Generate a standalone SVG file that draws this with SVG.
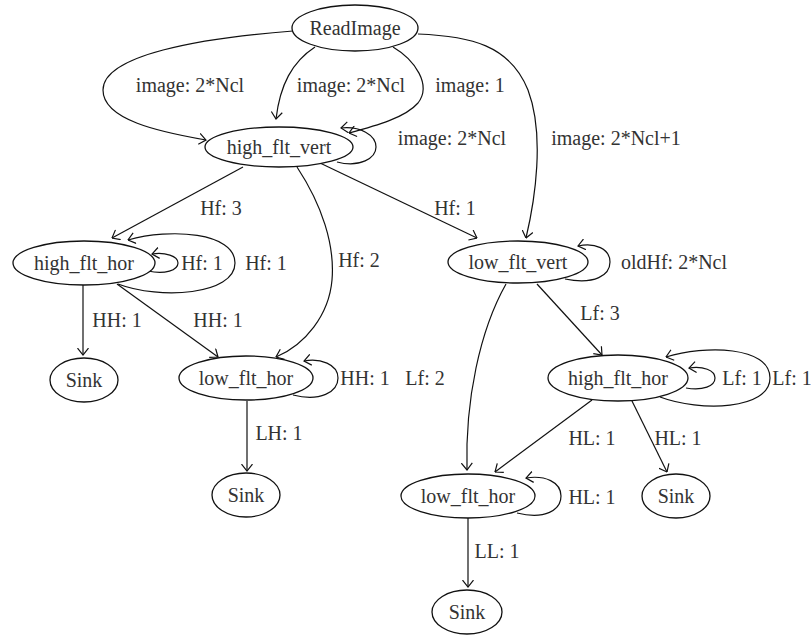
<svg xmlns="http://www.w3.org/2000/svg" width="811" height="636" viewBox="0 0 811 636">
  <defs>
    <marker id="vee" viewBox="0 0 8 12" refX="7.4" refY="6" markerWidth="8" markerHeight="12" markerUnits="userSpaceOnUse" orient="auto">
      <path d="M0.5,0.5 L7.4,6 L0.5,11.5" fill="none" stroke="#111" stroke-width="1.2"/>
    </marker>
    <style>
      .node ellipse { fill: #fff; stroke: #111; stroke-width: 1.3; }
      text { font-family: "Liberation Serif", "DejaVu Serif", serif; font-size: 20px; fill: #333; text-anchor: middle; }
      .edges path { fill: none; stroke: #111; stroke-width: 1.2; marker-end: url(#vee); }
    </style>
  </defs>
  <rect width="811" height="636" fill="#fff"/>

  <g id="edges" class="edges">
    <!-- ReadImage fan-out -->
    <path d="M293,31 C200,38 103,55 103,90 C103,120 160,132 206,140"/>
    <path d="M315,47 C292,62 280,85 276,119"/>
    <path d="M393,47 C415,60 432,85 418,103 C405,118 375,126 349,133"/>
    <path d="M418,34 C470,36 510,45 528,90 C545,135 535,200 526,238"/>
    <!-- high_flt_vert -->
    <path d="M337,162 C360,168 376,158 376,147 C376,135 360,126 341,128"/>
    <path d="M243,167 L112,238"/>
    <path d="M297,167 C322,205 335,245 332,280 C329,315 305,345 276,357"/>
    <path d="M320,163 L477,238"/>
    <!-- left high_flt_hor -->
    <path d="M148,271 C165,275 178,270 178,263 C178,256 165,252 152,254"/>
    <path d="M118,284 C160,300 235,295 235,263 C235,232 170,228 128,240"/>
    <path d="M83,285 L83,355"/>
    <path d="M117,284 L218,357"/>
    <!-- left low_flt_hor -->
    <path d="M293,395 C320,402 338,392 338,378 C338,364 320,358 304,361"/>
    <path d="M247,401 L247,471"/>
    <!-- low_flt_vert -->
    <path d="M565,279 C595,285 610,275 610,262 C610,249 595,242 578,246"/>
    <path d="M537,284 L602,355"/>
    <path d="M506,284 C480,330 465,400 467,470"/>
    <!-- right high_flt_hor -->
    <path d="M686,388 C703,391 715,386 715,378 C715,370 703,366 689,368"/>
    <path d="M660,397 C700,412 770,410 770,378 C770,346 705,345 666,357"/>
    <path d="M592,400 L495,472"/>
    <path d="M632,401 L667,472"/>
    <!-- right low_flt_hor -->
    <path d="M517,513 C545,520 561,510 561,496 C561,482 545,475 526,478"/>
    <path d="M468,518 L468,587"/>

    <!-- edge labels -->
    <g class="labels">
      <text x="190" y="92">image: 2*Ncl</text>
      <text x="351" y="92">image: 2*Ncl</text>
      <text x="470" y="92">image: 1</text>
      <text x="452" y="145">image: 2*Ncl</text>
      <text x="616" y="145">image: 2*Ncl+1</text>
      <text x="221" y="215">Hf: 3</text>
      <text x="455" y="215">Hf: 1</text>
      <text x="359" y="267">Hf: 2</text>
      <text x="202" y="270">Hf: 1</text>
      <text x="266" y="270">Hf: 1</text>
      <text x="674" y="269">oldHf: 2*Ncl</text>
      <text x="600" y="320">Lf: 3</text>
      <text x="117" y="327">HH: 1</text>
      <text x="218" y="327">HH: 1</text>
      <text x="365" y="385">HH: 1</text>
      <text x="425" y="385">Lf: 2</text>
      <text x="742" y="385">Lf: 1</text>
      <text x="792" y="385">Lf: 1</text>
      <text x="279" y="440">LH: 1</text>
      <text x="592" y="445">HL: 1</text>
      <text x="678" y="445">HL: 1</text>
      <text x="592" y="504">HL: 1</text>
      <text x="497" y="558">LL: 1</text>
    </g>
  </g>

  <g id="ReadImage" class="node"><ellipse cx="355" cy="28" rx="63" ry="23"/><text x="355" y="35">ReadImage</text></g>
  <g id="high_flt_vert" class="node"><ellipse cx="279" cy="147" rx="74" ry="20"/><text x="279" y="154">high_flt_vert</text></g>
  <g id="high_flt_hor_1" class="node"><ellipse cx="84" cy="263" rx="71" ry="22"/><text x="84" y="270">high_flt_hor</text></g>
  <g id="low_flt_vert" class="node"><ellipse cx="518" cy="262" rx="70" ry="21"/><text x="518" y="269">low_flt_vert</text></g>
  <g id="sink_1" class="node"><ellipse cx="84" cy="380" rx="34" ry="22"/><text x="84" y="387">Sink</text></g>
  <g id="low_flt_hor_1" class="node"><ellipse cx="246" cy="378" rx="67" ry="22"/><text x="246" y="385">low_flt_hor</text></g>
  <g id="high_flt_hor_2" class="node"><ellipse cx="618" cy="378" rx="70" ry="23"/><text x="618" y="385">high_flt_hor</text></g>
  <g id="sink_2" class="node"><ellipse cx="246" cy="495" rx="34" ry="22"/><text x="246" y="502">Sink</text></g>
  <g id="low_flt_hor_2" class="node"><ellipse cx="468" cy="496" rx="67" ry="22"/><text x="468" y="503">low_flt_hor</text></g>
  <g id="sink_3" class="node"><ellipse cx="676" cy="496" rx="34" ry="22"/><text x="676" y="503">Sink</text></g>
  <g id="sink_4" class="node"><ellipse cx="467" cy="612" rx="35" ry="22"/><text x="467" y="619">Sink</text></g>
</svg>
